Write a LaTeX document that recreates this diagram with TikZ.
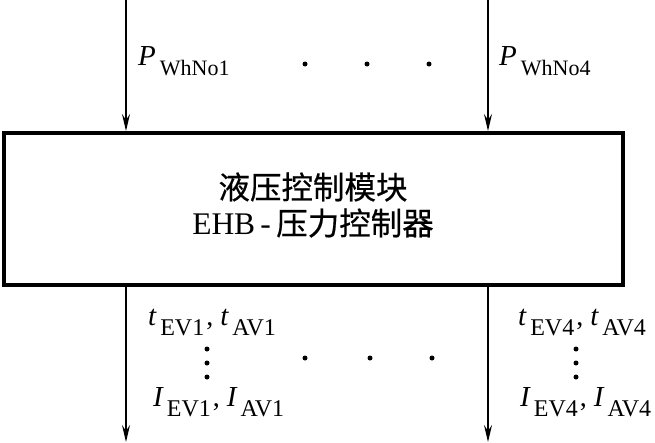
\documentclass[tikz,border=0pt]{standalone}
\usepackage{fontspec}
\setmainfont{Liberation Serif}
\newfontfamily\cjk[FakeBold=0.5]{Noto Sans CJK SC}
\usetikzlibrary{arrows.meta}
% symbol with lowered upright index
\newcommand\symb[3][22]{{\fontsize{29}{29}\selectfont\itshape #2}\kern4pt\raisebox{-10pt}{\fontsize{#1}{#1}\selectfont #3}}

\begin{document}
\begin{tikzpicture}[x=1pt, y=-1pt,
  sig/.style={line width=1.6pt, -{Stealth[length=17pt, width=8pt, inset=6pt]}},
  lbl/.style={anchor=base west, inner sep=0pt, font=\fontsize{28}{28}\selectfont},
  dot/.style={circle, fill, inner sep=0pt, minimum size=5pt}]
  \useasboundingbox (0,0) rectangle (655,442);
  % Box EHB
  \node[draw, line width=4pt, minimum width=619pt, minimum height=152pt, inner sep=0pt] (ehb) at (313.5,209) {};
  \node[align=center, font=\fontsize{31.5}{36}\selectfont] (title) at (313,205)
    {{\cjk 液压控制模块}\\EHB\,-\,{\cjk 压力控制器}};
  % wheel pressures in
  \coordinate (in1) at (126,0);
  \coordinate (in4) at (488,0);
  \draw[sig] (in1) -- (in1 |- ehb.north);
  \draw[sig] (in4) -- (in4 |- ehb.north);
  \node[lbl] (p1) at (138,65) {\symb{P}{WhNo1}};
  \node[lbl] (p4) at (499,65) {\symb{P}{WhNo4}};
  \foreach \x in {305,367,429} \node[dot] at (\x,64) {};
  % valve signals out
  \coordinate (out1) at (126,442);
  \coordinate (out4) at (488,442);
  \draw[sig] (out1 |- ehb.south) -- (out1);
  \draw[sig] (out4 |- ehb.south) -- (out4);
  \node[lbl] (t1) at (148,325) {\symb[24]{t}{EV1}\kern2pt, \symb[24]{t}{AV1}};
  \node[lbl] (t4) at (518,325) {\symb[24]{t}{EV4}\kern2pt, \symb[24]{t}{AV4}};
  \node[lbl] (i1) at (153,406) {\symb[24]{I}{EV1}\kern2pt, \symb[24]{I}{AV1}};
  \node[lbl] (i4) at (520,406) {\symb[24]{I}{EV4}\kern2pt, \symb[24]{I}{AV4}};
  \foreach \y in {349,363,377} {
    \node[dot] at (207,\y) {};
    \node[dot] at (576,\y) {};
  }
  \foreach \x in {305,370,432} \node[dot] at (\x,358) {};
\end{tikzpicture}
\end{document}
